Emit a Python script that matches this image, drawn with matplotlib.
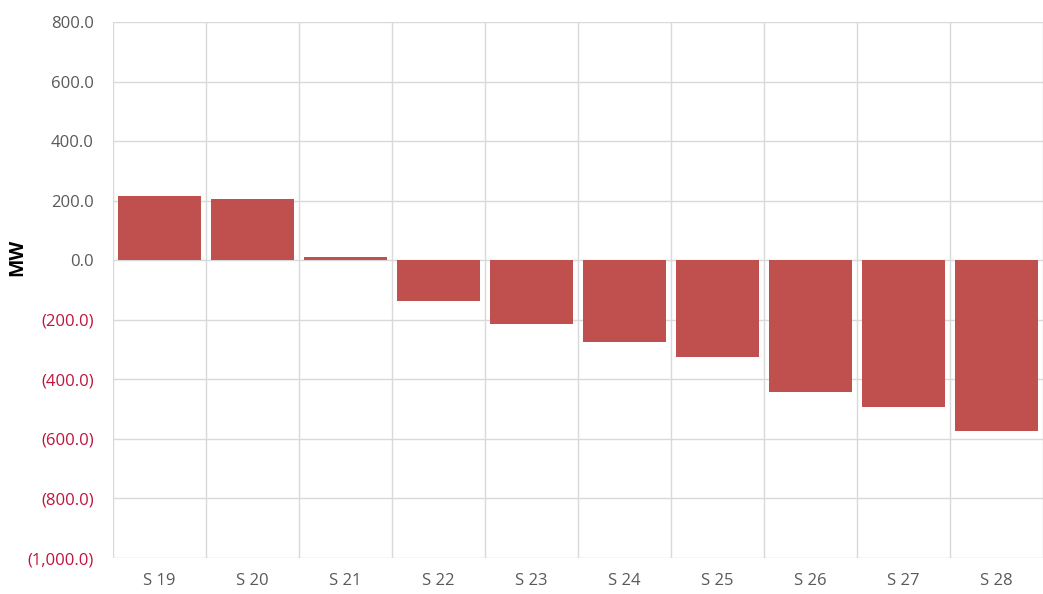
import matplotlib
matplotlib.use("Agg")
import matplotlib.pyplot as plt
from matplotlib.ticker import FuncFormatter, MultipleLocator

# weekly values (MW)
weeks = ["S 19", "S 20", "S 21", "S 22", "S 23", "S 24", "S 25", "S 26", "S 27", "S 28"]
mw = [215, 205, 12, -138, -214, -276, -326, -443, -492, -575]

plt.rcParams['font.family'] = ['Open Sans', 'DejaVu Sans']

fig = plt.figure(figsize=(10.43, 5.94), dpi=100)
ax = fig.add_axes([0.1083, 0.0606, 0.8917, 0.9024])

x = list(range(len(weeks)))
ax.bar(x, mw, width=0.9, color="#C0504D", zorder=3)

ax.set_ylim(-1000, 800)
ax.set_xlim(-0.5, 9.4)
ax.yaxis.set_major_locator(MultipleLocator(200))

def fmt(v, pos):
    if v < 0:
        return "({:,.1f})".format(-v)
    return "{:,.1f}".format(v)

ax.yaxis.set_major_formatter(FuncFormatter(fmt))
ax.set_xticks(x)
ax.set_xticklabels(weeks)

# vertical grid between categories
ax.set_xticks([i + 0.5 for i in range(-1, len(weeks))], minor=True)
ax.grid(axis="x", which="minor", color="#D9D9D9", linewidth=1, zorder=0)
ax.grid(axis="y", which="major", color="#D9D9D9", linewidth=1, zorder=0)

for s in ax.spines.values():
    s.set_visible(False)
ax.tick_params(axis="both", which="both", length=0)
ax.tick_params(axis="x", colors="#595959", labelsize=12, pad=11)
ax.tick_params(axis="y", colors="#595959", labelsize=12, pad=14)

for lbl, v in zip(ax.get_yticklabels(), ax.get_yticks()):
    if v < 0:
        lbl.set_color("#C0143C")

ax.set_ylabel("MW", fontsize=14, fontweight="bold", color="black")
ax.yaxis.set_label_coords(-0.0925, 0.56)

fig.savefig("out.png", dpi=100)
